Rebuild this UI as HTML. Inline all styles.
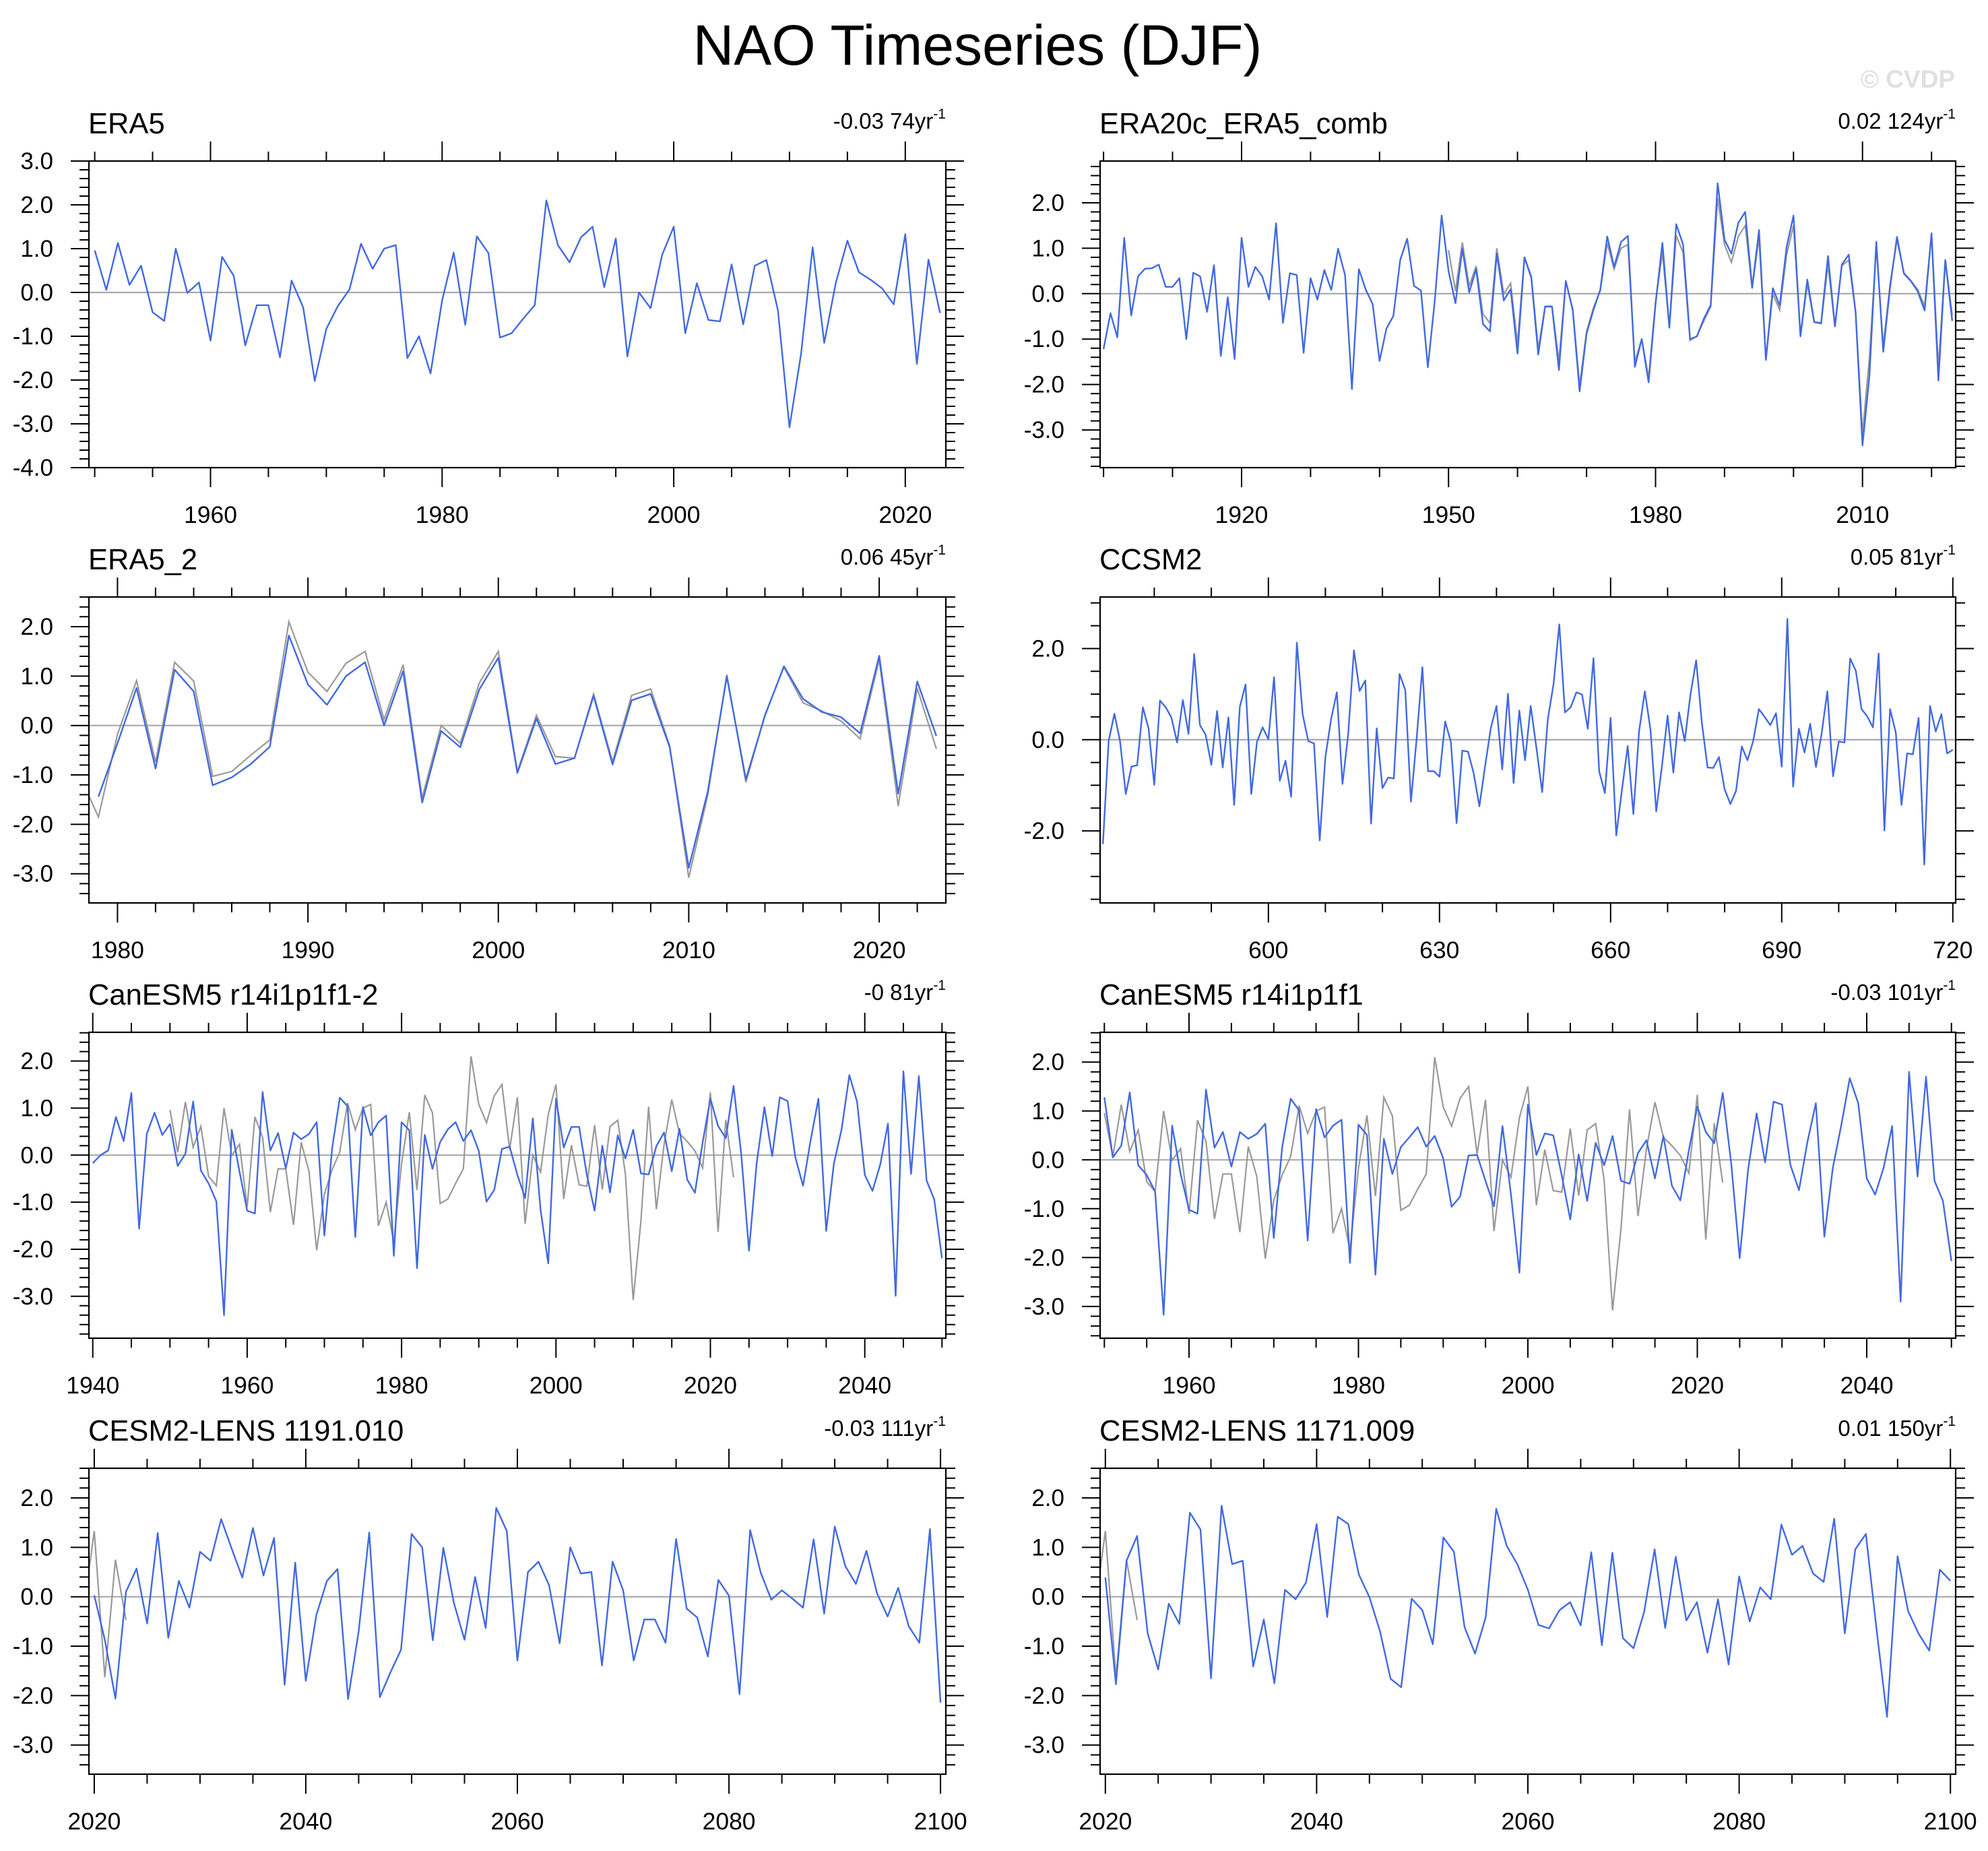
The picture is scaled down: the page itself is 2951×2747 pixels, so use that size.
<!DOCTYPE html>
<html><head><meta charset="utf-8"><title>NAO Timeseries (DJF)</title>
<style>
html,body{margin:0;padding:0;background:#fff;}
svg{display:block;font-family:"Liberation Sans",Arial,sans-serif;}
</style></head>
<body>
<svg id="fig" width="2951" height="2747" viewBox="0 0 2951 2747" xmlns="http://www.w3.org/2000/svg">
<rect x="0" y="0" width="2951" height="2747" fill="#fff"/>
<text x="1451" y="96" font-size="84" text-anchor="middle" fill="#000">NAO Timeseries (DJF)</text>
<text x="2902" y="130" font-size="37" font-weight="bold" text-anchor="end" fill="#e0e0e0">© CVDP</text>
</svg>
<script>
// ---- data ----
const era5Start = 1950;
const era5 = [0.96,0.06,1.13,0.17,0.61,-0.45,-0.65,1.0,-0.01,0.23,-1.1,0.81,0.38,-1.21,-0.29,-0.29,-1.48,0.27,-0.34,-2.02,-0.83,-0.31,0.07,1.11,0.54,1.0,1.08,-1.5,-1.0,-1.85,-0.18,0.91,-0.74,1.28,0.9,-1.03,-0.93,-0.6,-0.29,2.1,1.08,0.69,1.26,1.5,0.12,1.23,-1.46,0.0,-0.36,0.86,1.5,-0.93,0.21,-0.63,-0.66,0.64,-0.73,0.61,0.74,-0.41,-3.08,-1.4,1.03,-1.15,0.22,1.18,0.46,0.29,0.09,-0.27,1.33,-1.63,0.75,-0.47];
const era20cStart = 1900;
const era20c = [-1.22,-0.43,-0.96,1.23,-0.48,0.38,0.55,0.56,0.64,0.15,0.15,0.34,-1.0,0.46,0.38,-0.4,0.63,-1.37,-0.08,-1.44,1.23,0.15,0.59,0.38,-0.13,1.55,-0.64,0.45,0.41,-1.3,0.34,-0.13,0.52,0.08,0.99,0.41,-2.1,0.54,0.09,-0.23,-1.48,-0.77,-0.49,0.74,1.21,0.17,0.07,-1.62,-0.17,1.72,0.5,-0.21,0.99,0.03,0.54,-0.67,-0.83,0.88,-0.15,0.1,-1.32,0.8,0.35,-1.34,-0.28,-0.28,-1.68,0.28,-0.36,-2.15,-0.88,-0.36,0.09,1.26,0.59,1.14,1.27,-1.61,-1.0,-1.95,-0.23,1.12,-0.75,1.53,1.08,-1.0,-0.94,-0.55,-0.25,2.43,1.19,0.88,1.56,1.8,0.13,1.4,-1.46,0.12,-0.26,1.03,1.72,-0.94,0.31,-0.62,-0.65,0.83,-0.72,0.64,0.86,-0.41,-3.34,-1.81,1.14,-1.28,0.15,1.25,0.44,0.28,0.05,-0.37,1.33,-1.91,0.74,-0.6];
const era5bStart = 1979;
const era5b = [-1.44,-0.36,0.76,-0.87,1.13,0.69,-1.21,-1.05,-0.78,-0.43,1.82,0.83,0.42,1.0,1.28,0.0,1.1,-1.56,-0.11,-0.44,0.73,1.37,-0.96,0.14,-0.78,-0.66,0.6,-0.79,0.51,0.64,-0.44,-2.88,-1.33,0.99,-1.09,0.2,1.2,0.54,0.27,0.17,-0.16,1.41,-1.38,0.89,-0.21];
const ccsm2Start = 571;
const ccsm2 = [-2.29,-0.03,0.57,-0.03,-1.19,-0.59,-0.56,0.71,0.24,-0.99,0.86,0.71,0.49,-0.06,0.87,0.13,1.88,0.32,0.11,-0.55,0.63,-0.61,0.49,-1.43,0.72,1.21,-1.19,-0.05,0.27,0.01,1.37,-0.9,-0.46,-1.25,2.13,0.56,-0.03,-0.08,-2.21,-0.38,0.45,1.04,-0.97,0.13,1.96,1.07,1.3,-1.84,0.25,-1.06,-0.83,-0.85,1.44,1.09,-1.36,0.03,1.59,-0.69,-0.69,-0.81,0.4,-0.05,-1.83,-0.24,-0.26,-0.74,-1.46,-0.58,0.26,0.74,-0.65,1.01,-0.95,0.64,-0.45,0.74,-0.18,-1.15,0.45,1.22,2.53,0.6,0.71,1.04,0.99,0.24,1.79,-0.69,-1.17,0.48,-2.1,-1.09,-0.14,-1.63,0.19,1.06,0.22,-1.57,-0.58,0.53,-0.72,0.6,-0.03,0.99,1.74,0.38,-0.61,-0.62,-0.38,-1.09,-1.41,-1.12,-0.15,-0.45,-0.03,0.67,0.5,0.32,0.58,-0.59,2.65,-1.03,0.24,-0.28,0.35,-0.6,0.13,1.06,-0.8,-0.04,-0.06,1.78,1.51,0.67,0.51,0.27,1.89,-1.99,0.67,0.16,-1.43,-0.3,-0.32,0.48,-2.74,0.74,0.18,0.56,-0.3,-0.22];
const can2Start = 1940;
const can2 = [-0.17,0.0,0.1,0.81,0.3,1.32,-1.56,0.45,0.9,0.43,0.66,-0.23,0.03,1.14,-0.33,-0.6,-0.98,-3.4,0.54,-0.35,-1.18,-1.24,1.34,0.1,0.47,-0.28,0.48,0.34,0.45,0.7,-1.71,0.14,1.22,1.04,-1.74,1.02,0.42,0.7,0.84,-2.14,0.7,0.53,-2.4,0.43,-0.29,0.28,0.55,0.7,0.3,0.53,0.09,-0.99,-0.74,0.13,0.18,-0.42,-0.91,0.78,-1.16,-2.3,1.2,0.16,0.6,0.6,-0.42,-1.18,0.2,-0.79,0.42,-0.07,0.54,-0.39,-0.41,0.19,0.48,-0.34,0.56,-0.52,-0.8,0.27,1.2,0.62,0.36,1.47,0.02,-2.03,-0.17,1.02,-0.02,1.23,1.15,-0.04,-0.65,0.33,1.2,-1.61,-0.18,0.55,1.7,1.14,-0.42,-0.76,-0.2,0.67,-2.99,1.78,-0.4,1.68,-0.54,-0.94,-2.19];
const can1Start = 1950;
const can1 = [1.28,0.05,0.29,1.38,-0.11,-0.31,-0.65,-3.17,0.7,-0.29,-1.02,-1.1,1.44,0.25,0.57,-0.14,0.57,0.43,0.53,0.74,-1.6,0.26,1.25,1.01,-1.65,1.04,0.46,0.7,0.82,-2.11,0.72,0.51,-2.35,0.43,-0.29,0.26,0.46,0.67,0.27,0.49,0.03,-0.96,-0.75,0.09,0.1,-0.43,-0.95,0.69,-0.71,-2.31,1.13,0.1,0.54,0.5,-0.32,-1.22,0.11,-0.84,0.35,-0.11,0.49,-0.43,-0.49,0.14,0.4,-0.38,0.49,-0.53,-0.83,0.19,1.09,0.57,0.34,1.37,-0.07,-2.01,-0.2,0.95,-0.05,1.19,1.13,-0.11,-0.62,0.37,1.16,-1.57,-0.16,0.71,1.67,1.16,-0.38,-0.71,-0.16,0.69,-2.9,1.8,-0.34,1.7,-0.43,-0.84,-2.07];
const c1191Start = 2020;
const c1191 = [0.03,-0.87,-2.06,0.1,0.57,-0.54,1.29,-0.83,0.32,-0.22,0.91,0.73,1.57,0.97,0.39,1.39,0.43,1.19,-1.78,0.69,-1.7,-0.37,0.32,0.56,-2.07,-0.7,1.3,-2.03,-1.53,-1.07,1.27,1.0,-0.88,0.99,-0.13,-0.87,0.4,-0.63,1.8,1.33,-1.29,0.5,0.71,0.23,-0.94,1.0,0.47,0.5,-1.39,0.71,0.13,-1.29,-0.46,-0.46,-0.93,1.17,-0.24,-0.42,-1.21,0.34,0.02,-1.97,1.35,0.49,-0.06,0.13,-0.04,-0.22,1.16,-0.34,1.42,0.62,0.26,0.93,0.07,-0.4,0.18,-0.6,-0.93,1.37,-2.14];
const c1171Start = 2020;
const c1171 = [0.39,-1.77,0.73,1.23,-0.74,-1.47,-0.14,-0.55,1.7,1.36,-1.65,1.84,0.66,0.73,-1.41,-0.46,-1.75,0.14,-0.05,0.29,1.47,-0.41,1.62,1.47,0.45,-0.01,-0.7,-1.66,-1.83,-0.04,-0.27,-0.96,1.2,0.91,-0.61,-1.15,-0.42,1.78,1.03,0.66,0.14,-0.57,-0.64,-0.27,-0.11,-0.58,0.9,-0.98,0.89,-0.84,-1.04,-0.31,0.96,-0.63,0.81,-0.48,-0.11,-1.13,-0.05,-1.37,0.41,-0.5,0.19,-0.05,1.46,0.85,1.03,0.47,0.3,1.58,-0.74,0.96,1.27,-0.64,-2.43,0.82,-0.29,-0.75,-1.09,0.55,0.32];

const panelTitles = ["ERA5","ERA20c_ERA5_comb","ERA5_2","CCSM2","CanESM5 r14i1p1f1-2","CanESM5 r14i1p1f1","CESM2-LENS 1191.010","CESM2-LENS 1171.009"];
const trendLabels = ["-0.03 74yr","0.02 124yr","0.06 45yr","0.05 81yr","-0 81yr","-0.03 101yr","-0.03 111yr","0.01 150yr"];
const xTickLabels = [[1960,1980,2000,2020],[1920,1950,1980,2010],[1980,1990,2000,2010,2020],[600,630,660,690,720],[1940,1960,1980,2000,2020,2040],[1960,1980,2000,2020,2040],[2020,2040,2060,2080,2100],[2020,2040,2060,2080,2100]];
const yTickLabels = [[3,2,1,0,-1,-2,-3,-4],[2,1,0,-1,-2,-3],[2,1,0,-1,-2,-3],[2,0,-2],[2,1,0,-1,-2,-3],[2,1,0,-1,-2,-3],[2,1,0,-1,-2,-3],[2,1,0,-1,-2,-3]];

// ---- layout (not data) ----
const SVGNS = "http://www.w3.org/2000/svg";
const svg = document.getElementById("fig");
const colX = [[132,1404],[1633,2903]];
const rowY = [[239,694],[886,1340],[1532,1986],[2179,2633]];
const panels = [
 {series:era5,start:era5Start,gray:false,xd:[1949.5,2023.5],yd:[-4,3],xMinor:5,yMinor:0.2},
 {series:era20c,start:era20cStart,gray:true,xd:[1899.5,2023.5],yd:[-3.83,2.92],xMinor:10,yMinor:0.2},
 {series:era5b,start:era5bStart,gray:true,xd:[1978.5,2023.5],yd:[-3.59,2.6],xMinor:2,yMinor:0.2},
 {series:ccsm2,start:ccsm2Start,gray:false,xd:[570.5,720.5],yd:[-3.58,3.13],xMinor:10,yMinor:0.5},
 {series:can2,start:can2Start,gray:true,xd:[1939.5,2050.5],yd:[-3.89,2.61],xMinor:5,yMinor:0.2},
 {series:can1,start:can1Start,gray:true,xd:[1949.5,2050.5],yd:[-3.65,2.61],xMinor:5,yMinor:0.2},
 {series:c1191,start:c1191Start,gray:true,xd:[2019.5,2100.5],yd:[-3.59,2.6],xMinor:5,yMinor:0.2},
 {series:c1171,start:c1171Start,gray:true,xd:[2019.5,2100.5],yd:[-3.59,2.6],xMinor:5,yMinor:0.2}
];

function mk(tag, attrs, parent){
  const e = document.createElementNS(SVGNS, tag);
  for (const k in attrs) e.setAttribute(k, attrs[k]);
  (parent||svg).appendChild(e);
  return e;
}

panels.forEach((p, i) => {
  const col = i % 2, row = Math.floor(i / 2);
  const L = colX[col][0], R = colX[col][1], T = rowY[row][0], B = rowY[row][1];
  const xs = v => L + (v - p.xd[0]) / (p.xd[1] - p.xd[0]) * (R - L);
  const ys = v => B - (v - p.yd[0]) / (p.yd[1] - p.yd[0]) * (B - T);
  const g = mk("g", {});
  
  

  const clipId = "clip" + i;
  const cp = mk("clipPath", {id: clipId}, g);
  mk("rect", {x: L, y: T, width: R - L, height: B - T}, cp);

  const zl = mk("line", {x1: L, x2: R, y1: ys(0), y2: ys(0), stroke: "#a8a8a8", "stroke-width": 2.2}, g);
  
  

  if (p.gray) {
    const gp = era5.map((v, k) => xs(era5Start + k).toFixed(1) + "," + ys(v).toFixed(1)).join(" ");
    const gl = mk("polyline", {points: gp, fill: "none", stroke: "#999", "stroke-width": 2.2, "clip-path": "url(#" + clipId + ")"}, g);
    
    
  }
  const pts = p.series.map((v, k) => xs(p.start + k).toFixed(1) + "," + ys(v).toFixed(1)).join(" ");
  const ml = mk("polyline", {points: pts, fill: "none", stroke: "#4169e1", "stroke-width": 2.4, "stroke-linejoin": "round", "clip-path": "url(#" + clipId + ")"}, g);
  
  

  const fr = mk("rect", {x: L, y: T, width: R - L, height: B - T, fill: "none", stroke: "#000", "stroke-width": 2.2}, g);
  
  

  let d = "";
  const xmaj = xTickLabels[i];
  const x0 = Math.ceil(p.xd[0] / p.xMinor) * p.xMinor;
  for (let v = x0; v <= p.xd[1] + 1e-9; v += p.xMinor) {
    const maj = xmaj.indexOf(Math.round(v)) >= 0;
    const len = maj ? 29 : 14, X = xs(v).toFixed(1);
    d += "M" + X + "," + B + "v" + len + "M" + X + "," + T + "v" + (-len);
  }
  const ymaj = yTickLabels[i];
  const yv0 = Math.ceil(p.yd[0] / p.yMinor - 1e-9);
  const yv1 = Math.floor(p.yd[1] / p.yMinor + 1e-9);
  for (let k = yv0; k <= yv1; k++) {
    const v = k * p.yMinor;
    const maj = ymaj.some(m => Math.abs(m - v) < 1e-6);
    const len = maj ? 27 : 14, Y = ys(v).toFixed(1);
    d += "M" + L + "," + Y + "h" + (-len) + "M" + R + "," + Y + "h" + len;
  }
  const tk = mk("path", {d: d, stroke: "#000", "stroke-width": 2, fill: "none"}, g);
  
  

  xmaj.forEach(v => {
    const t = mk("text", {x: xs(v), y: B + 82, "font-size": 35.5, "text-anchor": "middle"}, g);
    t.textContent = String(v);
    
    
  });
  ymaj.forEach(v => {
    const t = mk("text", {x: L - 53, y: ys(v) + 12, "font-size": 35, "text-anchor": "end"}, g);
    t.textContent = v.toFixed(1);
    
    
  });
  const tl = mk("text", {x: L - 1, y: T - 41, "font-size": 43.5}, g);
  tl.textContent = panelTitles[i];
  
  
  const tr = mk("text", {x: R, y: T - 48, "font-size": 33, "text-anchor": "end"}, g);
  tr.textContent = trendLabels[i];
  const sup = mk("tspan", {dy: -15, "font-size": 21}, tr);
  sup.textContent = "-1";
  
  
});
</script>
</body></html>
